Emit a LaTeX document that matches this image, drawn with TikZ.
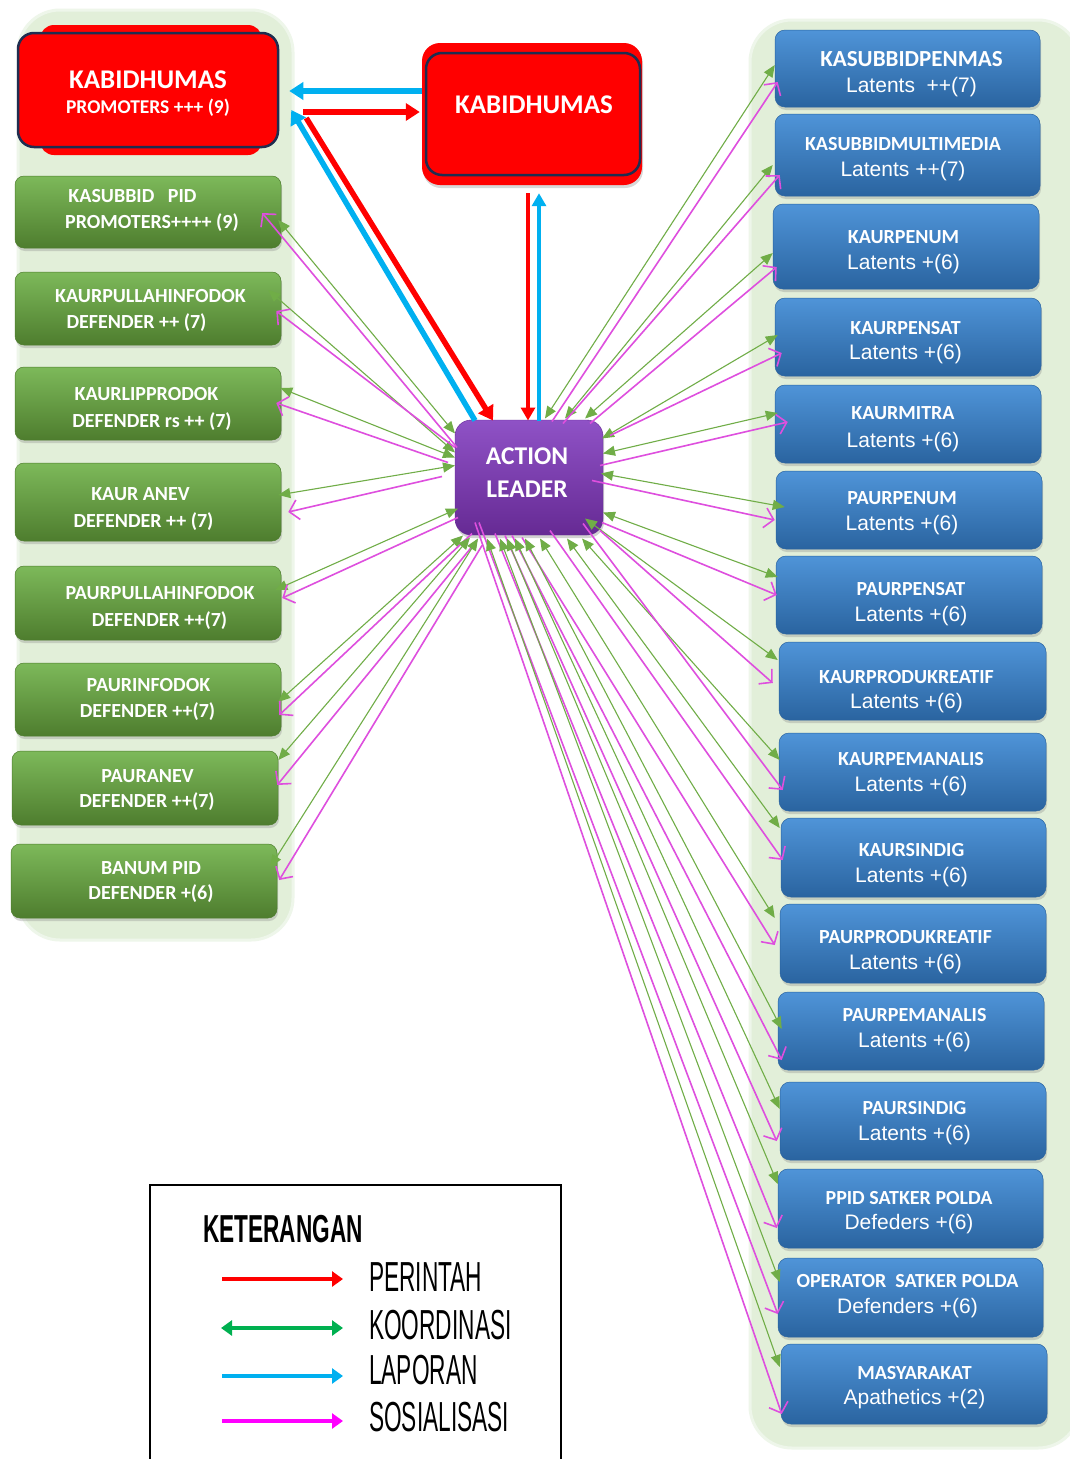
\documentclass[tikz,border=0pt]{standalone}
\usepackage{fontspec}
\usetikzlibrary{arrows.meta,shadows,calc}
\newfontfamily\carl{Carlito}
\newfontfamily\arifont{Liberation Sans}
\newfontfamily\narrowfont[FakeStretch=0.54]{Liberation Sans}
\newfontfamily\narrowbold[FakeStretch=0.58]{Liberation Sans Bold}
\definecolor{panelG}{HTML}{E2EFD9}
\definecolor{panelE}{HTML}{EEF6EA}
\definecolor{gTop}{HTML}{7DB95A}
\definecolor{gMid}{HTML}{5A8A38}
\definecolor{gBot}{HTML}{4E7D2E}
\definecolor{bTop}{HTML}{4F94D8}
\definecolor{bMid}{HTML}{2E6DAD}
\definecolor{bBot}{HTML}{2A64A0}
\definecolor{pTop}{HTML}{8F52C6}
\definecolor{pMid}{HTML}{7030A0}
\definecolor{pBot}{HTML}{662A94}
\definecolor{navy}{HTML}{1F2D50}
\definecolor{lineG}{HTML}{70AD47}
\definecolor{mag}{HTML}{DE4FDE}
\definecolor{cyanA}{HTML}{00B0F0}
\definecolor{legG}{HTML}{00B050}
\definecolor{legM}{HTML}{FF00FF}
\begin{document}
\begin{tikzpicture}[x=1pt,y=-1pt,
  panel/.style={fill=panelG, draw=panelE, line width=3pt, rounded corners=42pt, inner sep=0pt},
  gbox/.style={rounded corners=9pt, top color=gTop, middle color=gMid, bottom color=gBot, draw=gBot, line width=0.5pt, inner sep=0pt,
    drop shadow={opacity=0.3, shadow xshift=1pt, shadow yshift=-3pt}},
  bbox/.style={rounded corners=10pt, top color=bTop, middle color=bMid, bottom color=bBot, draw=bBot, line width=0.5pt, inner sep=0pt,
    drop shadow={opacity=0.3, shadow xshift=1pt, shadow yshift=-3pt}},
  gtxt/.style={text=white, font=\carl\bfseries\fontsize{20}{22}\selectfont, inner sep=0pt, anchor=base, yshift=-6.3pt},
  btxt/.style={text=white, font=\carl\bfseries\fontsize{20}{22}\selectfont, inner sep=0pt, anchor=base, yshift=-6.3pt},
  brtxt/.style={text=white, font=\arifont\fontsize{21}{24}\selectfont, inner sep=0pt, anchor=base, yshift=-7.5pt},
  koor/.style={draw=lineG, line width=1.1pt, {Triangle[length=12pt,width=10pt]}-{Triangle[length=12pt,width=10pt]}},
  sos/.style={draw=mag, line width=1.6pt, -{Straight Barb[length=9pt,width=20pt,line width=1.6pt]}},
  bigred/.style={draw=red, line width=5.5pt, -{Triangle[length=14pt,width=17pt]}},
  bigcyan/.style={draw=cyanA, line width=5.5pt, -{Triangle[length=14pt,width=17pt]}},
  legtxt/.style={font=\narrowfont\fontsize{42}{44}\selectfont, inner sep=0pt, anchor=west}
]
\useasboundingbox (0,0) rectangle (1070,1459);
\fill[white] (0,0) rectangle (1070,1459);

% panels
\node[panel, minimum width=275pt, minimum height=930pt] (pl) at (155.5,475) {};
\node[panel, minimum width=330pt, minimum height=1428pt] (pr) at (915,734) {};

% red boxes
\node[fill=red, rounded corners=14pt, minimum width=222pt, minimum height=130pt, inner sep=0pt] (k1g) at (151,90) {};
\node[fill=red, draw=navy, line width=2.5pt, rounded corners=16pt, minimum width=260pt, minimum height=114pt, inner sep=0pt] (k1) at (148,90) {};
\node[text=white, font=\carl\bfseries\fontsize{27}{29}\selectfont, inner sep=0pt, anchor=base] (k1t) at (148,88) {KABIDHUMAS};
\node[text=white, font=\carl\bfseries\fontsize{19.5}{21}\selectfont, inner sep=0pt, anchor=base] (k1s) at (148,113.5) {PROMOTERS +++ (9)};

\node[fill=red, rounded corners=18pt, minimum width=220pt, minimum height=142pt, inner sep=0pt,
  drop shadow={opacity=0.3, shadow xshift=1pt, shadow yshift=-3pt}] (k2) at (532,114) {};
\node[fill=red, draw=navy, line width=2.5pt, rounded corners=16pt, minimum width=214pt, minimum height=122pt, inner sep=0pt] (k2i) at (533,114) {};
\node[text=white, font=\carl\bfseries\fontsize{27}{29}\selectfont, inner sep=0pt, anchor=base] (k2t) at (534,113) {KABIDHUMAS};

% action leader
\node[rounded corners=16pt, top color=pTop, middle color=pMid, bottom color=pBot, draw=pBot, inner sep=0pt,
  minimum width=148pt, minimum height=115pt, drop shadow={opacity=0.35, shadow xshift=1pt, shadow yshift=-3pt}] (al) at (529,477.5) {};
\node[text=white, font=\carl\bfseries\fontsize{25.5}{28}\selectfont, inner sep=0pt, anchor=base] (alt1) at (527,464) {ACTION};
\node[text=white, font=\carl\bfseries\fontsize{25.5}{28}\selectfont, inner sep=0pt, anchor=base] (alt2) at (527,497) {LEADER};

% green boxes
\foreach \n/\xa/\xb/\ya/\yb in {g1/15/281/176/248,g2/15/281/272/345,g3/15/281/367/440,g4/15/281/463/541,g5/15/281/566/640,g6/15/281/663/736,g7/12/278/751/825,g8/11/277/844/918}
  \node[gbox, minimum width={(\xb-\xa)*1pt}, minimum height={(\yb-\ya)*1pt}] (\n) at ({(\xa+\xb)/2},{(\ya+\yb)/2}) {};

\foreach \n/\x/\y/\t in {g1a/132.5/196/{KASUBBID\ \ \ PID},g1b/152/222/{PROMOTERS++++ (9)},
  g2a/150.5/296/{KAURPULLAHINFODOK},g2b/136.5/322/{DEFENDER ++ (7)},
  g3a/146.5/394/{KAURLIPPRODOK},g3b/152/421/{DEFENDER rs ++ (7)},
  g4a/140.5/494/{KAUR ANEV},g4b/143.5/521/{DEFENDER ++ (7)},
  g5a/160/593/{PAURPULLAHINFODOK},g5b/159.5/620/{DEFENDER ++(7)},
  g6a/148.5/685/{PAURINFODOK},g6b/147.5/711/{DEFENDER ++(7)},
  g7a/147.5/776/{PAURANEV},g7b/147/801/{DEFENDER ++(7)},
  g8a/151/868/{BANUM PID},g8b/151/893/{DEFENDER +(6)}}
  \node[gtxt] (\n) at (\x,\y) {\t};

% blue boxes
\foreach \n/\xa/\xb/\ya/\yb in {r1/775/1040/30/107,r2/775/1040/114/196,r3/773/1039/204/289,r4/775/1041/298/376,
  r5/775/1041/385/463,r6/776/1042/471/549,r7/776/1042/556/634,r8/779/1046/642/720,r9/779/1046/733/811,
  r10/781/1046/818/897,r11/780/1046/904/983,r12/778/1044/992/1070,r13/780/1046/1082/1160,
  r14/778/1043/1169/1248,r15/778/1043/1258/1337,r16/781/1047/1344/1424}
  \node[bbox, minimum width={(\xb-\xa)*1pt}, minimum height={(\yb-\ya)*1pt}] (\n) at ({(\xa+\xb)/2},{(\ya+\yb)/2}) {};

\node[btxt, font=\carl\bfseries\fontsize{23}{25}\selectfont, yshift=-1pt] (r1-l1) at (911.5,59) {KASUBBIDPENMAS};
\node[brtxt] (r1-l2) at (911.5,85) {Latents\ \ ++(7)};
\foreach \n/\x/\ya/\yb/\ta/\tb in {
  r2/903/144/169/{KASUBBIDMULTIMEDIA}/{Latents ++(7)},
  r3/903.5/237/262/{KAURPENUM}/{Latents +(6)},
  r4/905.5/328/352/{KAURPENSAT}/{Latents +(6)},
  r5/903/413/440/{KAURMITRA}/{Latents +(6)},
  r6/902/498/523/{PAURPENUM}/{Latents +(6)},
  r7/911/589/614/{PAURPENSAT}/{Latents +(6)},
  r8/906.5/677/701/{KAURPRODUKREATIF}/{Latents +(6)},
  r9/911/759/784/{KAURPEMANALIS}/{Latents +(6)},
  r10/911.5/850/875/{KAURSINDIG}/{Latents +(6)},
  r11/905.5/937/962/{PAURPRODUKREATIF}/{Latents +(6)},
  r12/914.5/1015/1040/{PAURPEMANALIS}/{Latents +(6)},
  r13/914.5/1108/1133/{PAURSINDIG}/{Latents +(6)},
  r14/909/1198/1222/{PPID SATKER POLDA}/{Defeders +(6)},
  r15/907.5/1281/1306/{OPERATOR\ \ SATKER POLDA}/{Defenders +(6)},
  r16/914.5/1373/1397/{MASYARAKAT}/{Apathetics +(2)}}
  {\node[btxt] (\n-l1) at (\x,\ya) {\ta};
   \node[brtxt] (\n-l2) at (\x,\yb) {\tb};}

% koordinasi and sosialisasi lines, left
\foreach \b/\ga/\gb/\ma/\mb/\gx/\gy/\mx/\my in {g1/-74/-44/-72/-30/-3/8/-19/1,
  g2/-74/-25/-74/-30/-13/-18.5/-5/2.5,
  g3/-74/-20/-81/-15/-1/-15.5/-5/-0.5,
  g4/-74/-12/-87/-1/-3/-7/7/10,
  g5/-71/31/-71/40/-6/-13/1/-5,
  g6/-66/58/-57/56/-3/2.5/-2/15.5,
  g7/-59/60/-52/63/0/-28/-1/-3,
  g8/-51/61/-47/68/-7/-14/2/-1}
{
  \draw[koor] ($(al.center)+(\ga,\gb)$) -- ($(\b.east)+(\gx,\gy)$);
  \draw[sos] ($(al.center)+(\ma,\mb)$) -- ($(\b.east)+(\mx,\my)$);
}
% right
\foreach \b/\ga/\gb/\ma/\mb/\gx/\gy/\mx/\my in {r1/16/-59/23/-56/0/-3.5/3/13.5,
  r2/36/-59/34/-54/-2/10/5/20,
  r3/56/-59/61/-54/0/6.5/4/20.5,
  r4/73/-39/81/-42/3/-2/7/16,
  r5/74/-24/71/-12/3/-11/13/-2,
  r6/72/-4/63/3/9/-3/-1/10,
  r7/74/35/73/45/2/-18/1/0,
  r8/56/41/71/53/-1/-21/-6/2,
  r9/53/61/54/46/1/-12/4/18,
  r10/38/61/21/53/-1/-29.5/2/2.5,
  r11/11/61/-7/60/-5/-25.5/-5/1.5,
  r12/-4/61/-17/58/4/-2/4/29,
  r13/-14/61/-24/58/0/-12/-3/20,
  r14/-22/61/-34/56/0/-24.5/-1/19.5,
  r15/-29/61/-50/45/2/-15.5/0/16.5,
  r16/-42/61/-54/45/-1/-17/1/30}
{
  \draw[koor] ($(al.center)+(\ga,\gb)$) -- ($(\b.west)+(\gx,\gy)$);
  \draw[sos] ($(al.center)+(\ma,\mb)$) -- ($(\b.west)+(\mx,\my)$);
}

% big arrows
\draw[bigcyan] ($(k2.west)+(0,-23)$) -- ($(k1.east)+(10,1)$);
\draw[bigred] ($(k1.east)+(24,22)$) -- ($(k2.west)+(-2,-2)$);
\draw[bigcyan] ($(al.center)+(-54,-57)$) -- ($(k1.east)+(12,20)$);
\draw[bigred] ($(k1.east)+(27,28)$) -- ($(al.center)+(-36,-57)$);
\draw[draw=red, line width=4pt, -{Triangle[length=13pt,width=14pt]}] ($(k2.south)+(-4,8)$) -- ($(al.center)+(-1,-57)$);
\draw[draw=cyanA, line width=4pt, -{Triangle[length=13pt,width=14pt]}] ($(al.center)+(10,-57)$) -- ($(k2.south)+(7,8)$);

% legend
\draw[line width=1.5pt] (150,1462) -- (150,1185) -- (561,1185) -- (561,1462);
\node[font=\narrowbold\fontsize{39}{42}\selectfont, inner sep=0pt, anchor=west] (ket) at (203,1229) {KETERANGAN};
\coordinate (l1a) at (222,1279); \coordinate (l1b) at (343,1279);
\coordinate (l2a) at (221,1328); \coordinate (l2b) at (343,1328);
\coordinate (l3a) at (222,1376); \coordinate (l3b) at (343,1376);
\coordinate (l4a) at (222,1421); \coordinate (l4b) at (343,1421);
\draw[draw=red, line width=3.5pt, -{Triangle[length=11pt,width=15pt]}] (l1a) -- (l1b);
\draw[draw=legG, line width=3.5pt, {Triangle[length=11pt,width=15pt]}-{Triangle[length=11pt,width=15pt]}] (l2a) -- (l2b);
\draw[draw=cyanA, line width=3.5pt, -{Triangle[length=11pt,width=15pt]}] (l3a) -- (l3b);
\draw[draw=legM, line width=3.5pt, -{Triangle[length=11pt,width=15pt]}] (l4a) -- (l4b);
\node[legtxt] (t1) at (369,1277) {PERINTAH};
\node[legtxt] (t2) at (369,1325) {KOORDINASI};
\node[legtxt] (t3) at (369,1370) {LAPORAN};
\node[legtxt] (t4) at (369,1417) {SOSIALISASI};
\end{tikzpicture}
\end{document}
